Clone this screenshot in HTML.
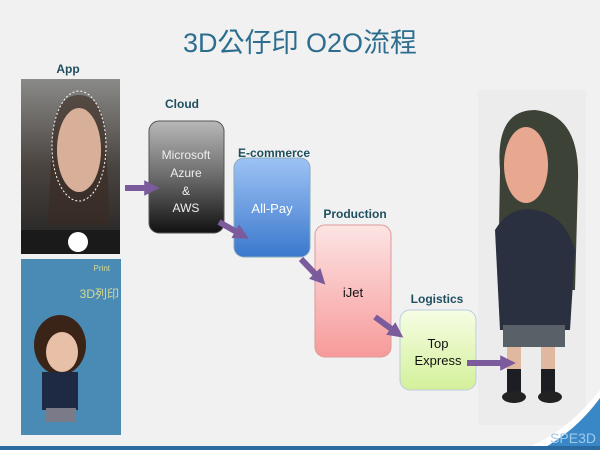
<!DOCTYPE html>
<html><head><meta charset="utf-8"><style>
html,body{margin:0;padding:0;background:#f1f1f2;}
svg{display:block;font-family:"Liberation Sans","Noto Sans CJK TC",sans-serif;}
</style></head><body>
<svg width="600" height="450" viewBox="0 0 600 450" xmlns="http://www.w3.org/2000/svg">
<defs>
<linearGradient id="gCloud" x1="0" y1="0" x2="0" y2="1"><stop offset="0" stop-color="#b8b8b8"/><stop offset="0.5" stop-color="#6a6a6a"/><stop offset="1" stop-color="#111"/></linearGradient>
<linearGradient id="gBlue" x1="0" y1="0" x2="0" y2="1"><stop offset="0" stop-color="#9ec3f5"/><stop offset="1" stop-color="#3b78cc"/></linearGradient>
<linearGradient id="gPink" x1="0" y1="0" x2="0" y2="1"><stop offset="0" stop-color="#fde4e4"/><stop offset="1" stop-color="#f79a9a"/></linearGradient>
<linearGradient id="gGreen" x1="0" y1="0" x2="0" y2="1"><stop offset="0" stop-color="#f6fde4"/><stop offset="1" stop-color="#d4f09a"/></linearGradient>
<linearGradient id="gPhoto" x1="0" y1="0" x2="0" y2="1"><stop offset="0" stop-color="#8a8a88"/><stop offset="0.5" stop-color="#4a4440"/><stop offset="1" stop-color="#222"/></linearGradient>
<marker id="ah" viewBox="0 0 10 10" refX="5" refY="5" markerWidth="2.6" markerHeight="3" orient="auto"><path d="M0,0L10,5L0,10z" fill="#7b5b9b"/></marker>
</defs>
<rect width="600" height="450" fill="#f1f1f2"/>
<text x="300" y="52" text-anchor="middle" font-size="27" fill="#2d6e8e">3D公仔印 O2O流程</text>

<text x="68" y="73" text-anchor="middle" font-size="12" font-weight="bold" fill="#1f4f5f">App</text>
<rect x="21" y="79" width="99" height="175" fill="url(#gPhoto)"/>
<path d="M52,140 Q54,95 79,95 Q104,95 106,140 L110,225 L48,225 Z" fill="#3a2a22" opacity="0.6"/>
<ellipse cx="79" cy="146" rx="27" ry="55" fill="none" stroke="#fff" stroke-dasharray="2,2"/>
<ellipse cx="79" cy="150" rx="22" ry="42" fill="#d8b09a"/>
<rect x="21" y="230" width="99" height="24" fill="#1a1a1a"/>
<circle cx="78" cy="242" r="10" fill="#fff"/>
<rect x="21" y="259" width="100" height="176" fill="#4a8bb5"/>
<ellipse cx="60" cy="345" rx="26" ry="30" fill="#3a2418"/>
<ellipse cx="62" cy="352" rx="16" ry="20" fill="#e8c0a8"/>
<rect x="42" y="372" width="36" height="38" fill="#1e2a44"/>
<rect x="46" y="408" width="30" height="14" fill="#7a7a88"/>
<text x="110" y="271" font-size="8" fill="#d8d890" text-anchor="end">Print</text>
<text x="119" y="298" font-size="12" fill="#d8d890" text-anchor="end">3D列印</text>

<text x="182" y="108" text-anchor="middle" font-size="12" font-weight="bold" fill="#1f4f5f">Cloud</text>
<rect x="149" y="121" width="75" height="112" rx="10" fill="url(#gCloud)" stroke="#555"/>
<g font-size="12" fill="#eee" text-anchor="middle"><text x="186" y="159">Microsoft</text><text x="186" y="177">Azure</text><text x="186" y="195">&amp;</text><text x="186" y="212">AWS</text></g>

<text x="274" y="157" text-anchor="middle" font-size="12" font-weight="bold" fill="#1f4f5f">E-commerce</text>
<rect x="234" y="158" width="76" height="99" rx="10" fill="url(#gBlue)" stroke="#8ab"/>
<text x="272" y="213" text-anchor="middle" font-size="13" fill="#fff">All-Pay</text>

<text x="355" y="218" text-anchor="middle" font-size="12" font-weight="bold" fill="#1f4f5f">Production</text>
<rect x="315" y="225" width="76" height="132" rx="10" fill="url(#gPink)" stroke="#d99"/>
<text x="353" y="297" text-anchor="middle" font-size="13" fill="#111">iJet</text>

<text x="437" y="303" text-anchor="middle" font-size="12" font-weight="bold" fill="#1f4f5f">Logistics</text>
<rect x="400" y="310" width="76" height="80" rx="10" fill="url(#gGreen)" stroke="#bcd"/>
<text x="438" y="348" text-anchor="middle" font-size="13" fill="#111">Top</text>
<text x="438" y="365" text-anchor="middle" font-size="13" fill="#111">Express</text>

<rect x="478" y="90" width="108" height="335" fill="#ececec"/>
<path d="M500,170 Q495,110 535,110 Q580,115 578,180 L575,290 L498,290 Z" fill="#3d4236"/>
<ellipse cx="526" cy="165" rx="22" ry="38" fill="#e8a890"/>
<path d="M495,230 Q510,205 535,210 Q565,215 575,250 L570,330 L500,330 Z" fill="#2a3040"/>
<rect x="503" y="325" width="62" height="22" fill="#5a6068"/>
<rect x="507" y="347" width="14" height="22" fill="#e0b8a0"/>
<rect x="541" y="347" width="14" height="22" fill="#e0b8a0"/>
<rect x="507" y="369" width="14" height="25" fill="#1c1e24"/>
<rect x="541" y="369" width="14" height="25" fill="#1c1e24"/>
<ellipse cx="514" cy="397" rx="12" ry="6" fill="#222"/>
<ellipse cx="550" cy="397" rx="12" ry="6" fill="#222"/>

<g stroke="#7b5b9b" stroke-width="6" fill="none" marker-end="url(#ah)">
<line x1="125" y1="188" x2="152" y2="188"/>
<line x1="219" y1="222" x2="242" y2="235"/>
<line x1="301" y1="259" x2="320" y2="279"/>
<line x1="375" y1="317" x2="397" y2="333"/>
<line x1="467" y1="363" x2="508" y2="363"/>
</g>

<path d="M540,450 Q575,430 600,395 L600,450 Z" fill="#3a87c7"/>
<path d="M520,450 Q565,435 600,390 L600,398 Q575,432 540,450 Z" fill="#fff"/>
<text x="596" y="443" text-anchor="end" font-size="14" fill="#9ecbe8">SPE3D</text>
<rect x="0" y="446" width="600" height="4" fill="#2a6aa0"/>
</svg>
</body></html>
